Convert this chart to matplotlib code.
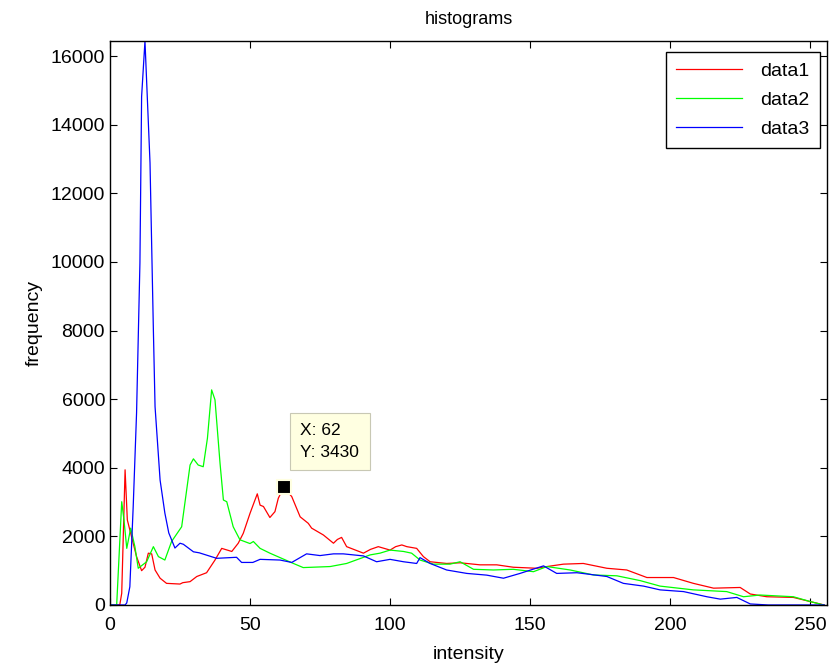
import matplotlib
matplotlib.use("Agg")
import matplotlib.pyplot as plt

plt.rcParams["font.family"] = ["Liberation Sans", "DejaVu Sans"]

# data (intensity, frequency)
red_x = [0, 3.5, 4.2, 5.4, 6.2, 7.7, 9.5, 11.3, 12.5, 13.7, 14.9, 16.1, 17.9, 20.2, 25, 26, 28.6, 31,
         34.5, 37.5, 39.9, 43.5, 45.8, 47.6, 50, 52.6, 53.6, 54.8, 57.1, 58.9, 60.1, 62, 64.9, 67.9,
         70.8, 72, 76.2, 79.8, 81.2, 82.7, 84.5, 90.5, 93, 95.8, 100, 102, 104.2, 106, 109.5, 111.9,
         114.3, 120.2, 125, 132.1, 138.1, 144, 152.4, 156, 161.9, 169, 177.4, 184.5, 191.7, 201.2,
         208.3, 215.5, 225, 228.6, 234.5, 244, 250, 255]
red_y = [0, 0, 340, 3940, 2480, 1990, 1410, 1000, 1100, 1510, 1490, 1020, 780, 630, 610, 650, 680, 830,
         940, 1310, 1650, 1560, 1800, 2090, 2670, 3240, 2910, 2870, 2550, 2720, 3110, 3430, 3160, 2570,
         2380, 2240, 2040, 1800, 1910, 1970, 1700, 1510, 1620, 1700, 1600, 1700, 1750, 1700, 1650, 1410,
         1260, 1210, 1230, 1170, 1170, 1100, 1070, 1120, 1190, 1210, 1070, 1020, 800, 800,
         630, 490, 510, 320, 240, 220, 100, 0]

green_x = [0, 2.4, 4.2, 5, 6, 7.4, 8.9, 10.1, 13.1, 15.5, 17.3, 19.6, 22, 25.6, 28.6, 29.8, 31.5, 33.3,
           34.8, 36.3, 37.5, 39.3, 40.5, 41.7, 44, 46.4, 50, 51.2, 53.6, 57.1, 61.3, 65.5, 69, 78.6,
           84.5, 92.9, 96.4, 100, 104.8, 107.7, 110.7, 115.5, 121.4, 125, 129.8, 136.9, 144, 151.2,
           156, 164.3, 172.6, 181, 189.3, 196.4, 208.3, 220.2, 226.2, 232.1, 244, 250, 254.8]
green_y = [0, 0, 3010, 2480, 1650, 2240, 1700, 1070, 1260, 1700, 1410, 1310, 1850, 2280, 4080, 4260, 4080, 4030,
           4860, 6270, 5980, 4130, 3060, 3010, 2280, 1900, 1790, 1850, 1650, 1510, 1360, 1210, 1090, 1120,
           1210, 1460, 1510, 1600, 1560, 1510, 1310, 1190, 1190, 1260, 1040, 1020, 1040, 970,
           1120, 1020, 875, 850, 710, 550, 440, 390, 240, 290, 240, 100, 0]

blue_x = [0, 5.4, 6, 7.1, 8.3, 9.5, 10.7, 11.3, 12.5, 14.3, 15.5, 16.1, 17.9, 19.6, 21, 23.2, 25, 26.2,
          29.8, 31.9, 38.1, 45.2, 47, 51, 53.6, 60.7, 64.9, 70.2, 75, 79.8, 83.3, 90.5, 95.2, 100,
          104.8, 109.5, 110.7, 114.3, 120.2, 127.4, 134.5, 140.5, 146.4, 154.8, 159.5, 166.7, 177.4,
          183.3, 190.5, 196.4, 204.8, 213.1, 217.9, 223.8, 228.6, 235, 255]
blue_y = [0, 0, 60, 530, 2870, 5600, 9970, 14820, 16440, 12890, 8020, 5780, 3640, 2680, 2100, 1660, 1800, 1770,
          1550, 1520, 1360, 1390, 1240, 1240, 1330, 1310, 1240, 1490, 1440, 1490, 1490, 1430, 1260, 1330,
          1260, 1210, 1380, 1210, 1020, 920, 870, 780, 920, 1140, 920, 940, 830,
          630, 550, 440, 390, 240, 170, 220, 30, 0, 0]

tip_x, tip_y = 62, 3430

fig = plt.figure(figsize=(8.33, 6.71), dpi=100)
ax = fig.add_axes([0.132, 0.0984, 0.8608, 0.8405])

ax.plot(red_x, red_y, color="#ff0000", lw=0.9, label="data1")
ax.plot(green_x, green_y, color="#00ff00", lw=0.9, label="data2")
ax.plot(blue_x, blue_y, color="#0000ff", lw=0.9, label="data3")

ax.set_xlim(0, 256)
ax.set_ylim(0, max(blue_y))
ax.set_xticks([0, 50, 100, 150, 200, 250])
ax.set_yticks(range(0, 16001, 2000))
ax.tick_params(direction="in", top=True, right=True, length=5, width=0.8, labelsize=14)
ax.tick_params(axis="x", pad=9)
for s in ax.spines.values():
    s.set_linewidth(1.0)

ax.set_title("histograms", fontsize=13, pad=12)
ax.set_xlabel("intensity", fontsize=14, labelpad=8)
ax.set_ylabel("frequency", fontsize=14, labelpad=6)

# data tip
ax.plot([tip_x], [tip_y], marker="s", ms=10, color="black", mec="#ffffe1", mew=1.5, zorder=5)
ax.text(68, 4760, "X: %d\nY: %d" % (tip_x, tip_y), fontsize=12.5, va="center", ha="left",
        linespacing=1.55,
        bbox=dict(boxstyle="square,pad=0.6", fc="#ffffe1", ec="#c8c8b4", lw=0.8), zorder=6)

leg = ax.legend(loc="upper right", bbox_to_anchor=(0.990, 0.981), fontsize=14, fancybox=False,
                edgecolor="black", framealpha=1, borderaxespad=0, handlelength=3.4,
                handletextpad=0.9, labelspacing=0.58, borderpad=0.55)
leg.get_frame().set_linewidth(1.0)

fig.savefig("out.png", dpi=100)
